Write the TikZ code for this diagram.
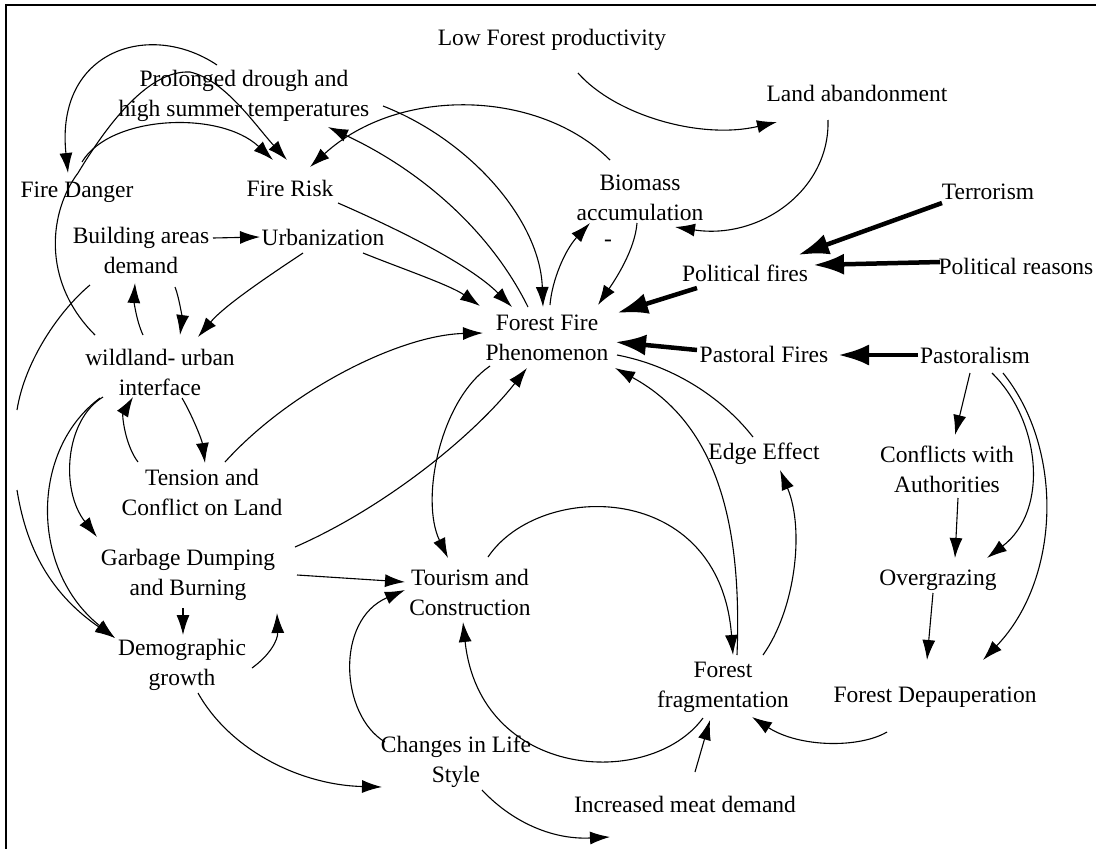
\documentclass[tikz,border=0pt]{standalone}
\usepackage{fontspec}
\setmainfont{Liberation Serif}
\usetikzlibrary{arrows.meta}
\begin{document}
\begin{tikzpicture}[x=1pt,y=-1pt,
  lbl/.style={font=\fontsize{23.5}{30}\selectfont, align=center, inner sep=0pt},
  conn/.style={line width=1.1pt, -{Latex[length=20pt,width=13pt]}},
  plainconn/.style={line width=1.1pt},
  bigconn/.style={line width=4.5pt, -{Latex[length=31pt,width=21pt]}}]
\useasboundingbox (0,0) rectangle (1096,849);
\draw[line width=2.2pt] (6,849) -- (6,5) -- (1096,5);

% nodes
\node[lbl] (lfp) at (552,40) {Low Forest productivity};
\node[lbl] (pd) at (244,96) {Prolonged drough and\\high summer temperatures};
\node[lbl] (fd) at (77,192) {Fire Danger};
\node[lbl] (fr) at (290,188) {Fire Risk};
\node[lbl] (la) at (857,93) {Land abandonment};
\node[lbl] (bio) at (640,198) {Biomass\\accumulation};
\node[lbl] (minus) at (608,243) {-};
\node[lbl] (ter) at (988,192) {Terrorism};
\node[lbl] (polr) at (1016,266) {Political reasons};
\node[lbl] (polf) at (745,273) {Political fires};
\node[lbl] (bad) at (141,250) {Building areas\\demand};
\node[lbl] (urb) at (323,237) {Urbanization};
\node[lbl] (ff) at (547,338) {Forest Fire\\Phenomenon};
\node[lbl] (pf) at (764,354) {Pastoral Fires};
\node[lbl] (past) at (975,355) {Pastoralism};
\node[lbl] (wui) at (160,372) {wildland- urban\\interface};
\node[lbl] (tcl) at (202,492) {Tension and\\Conflict on Land};
\node[lbl] (edge) at (764,454) {Edge Effect};
\node[lbl] (cwa) at (947,469) {Conflicts with\\Authorities};
\node[lbl] (gdb) at (188,575) {Garbage Dumping\\and Burning};
\node[lbl] (tc) at (470,592) {Tourism and\\Construction};
\node[lbl] (og) at (938,580) {Overgrazing};
\node[lbl] (dg) at (182,665) {Demographic\\growth};
\node[lbl] (ffr) at (723,687) {Forest\\fragmentation};
\node[lbl] (fdp) at (935,697) {Forest Depauperation};
\node[lbl] (cls) at (456,762) {Changes in Life\\Style};
\node[lbl] (imd) at (685,804) {Increased meat demand};
\coordinate (gapA) at (17,410);
\coordinate (gapB) at (17,490);

% thin connectors
\draw[conn] ([shift={(26,33)}]lfp.center) .. controls (615,115) and (700,140) .. ([shift={(-80,29)}]la.center);
\draw[conn] ([shift={(-29,27)}]la.center) .. controls (830,190) and (760,240) .. ([shift={(35,29)}]bio.center);
\draw[conn] ([shift={(-30,-38)}]bio.center) .. controls (540,90) and (400,85) .. ([shift={(20,-21)}]fr.center);
\draw[conn] ([shift={(-19,-31)}]ff.center) .. controls (490,230) and (420,170) .. ([shift={(84,31)}]pd.center);
\draw[conn] ([shift={(139,10)}]pd.center) .. controls (470,140) and (540,220) .. ([shift={(-4,-31)}]ff.center);
\draw[conn] ([shift={(48,15)}]fr.center) .. controls (400,230) and (470,265) .. ([shift={(-35,-31)}]ff.center);
\draw[conn] ([shift={(40,16)}]urb.center) .. controls (400,268) and (450,285) .. ([shift={(-67,-32)}]ff.center);
\draw[conn] ([shift={(-20,16)}]urb.center) .. controls (270,275) and (225,305) .. ([shift={(38,-35)}]wui.center);
\draw[conn] ([shift={(72,-12)}]bad.center) -- ([shift={(-63,0)}]urb.center);
\draw[conn] ([shift={(34,37)}]bad.center) .. controls (180,300) and (182,320) .. ([shift={(20,-37)}]wui.center);
\draw[conn] ([shift={(-17,-37)}]wui.center) .. controls (136,320) and (134,300) .. ([shift={(-6,33)}]bad.center);
\draw[conn] ([shift={(-65,-37)}]wui.center) .. controls (40,280) and (50,210) .. (78,173) .. controls (110,120) and (150,70) .. (190,72) .. controls (225,80) and (255,125) .. ([shift={(-3,-28)}]fr.center);
\draw[conn] ([shift={(5,-30)}]fd.center) .. controls (110,115) and (220,110) .. ([shift={(-17,-28)}]fr.center);
\draw[conn] ([shift={(-27,-31)}]pd.center) .. controls (150,20) and (55,50) .. ([shift={(-9,-19)}]fd.center);
\draw[conn] ([shift={(-3,25)}]bio.center) .. controls (635,250) and (615,280) .. ([shift={(51,-33)}]ff.center);
\draw[conn] ([shift={(3,-33)}]ff.center) .. controls (552,280) and (565,250) .. ([shift={(-50,25)}]bio.center);
\draw[plainconn] ([shift={(-11,-17)}]edge.center) .. controls (720,395) and (670,365) .. ([shift={(70,17)}]ff.center);
\draw[conn] ([shift={(40,-32)}]ffr.center) .. controls (795,610) and (805,530) .. ([shift={(16,16)}]edge.center);
\draw[conn] ([shift={(14,-32)}]ffr.center) .. controls (742,530) and (720,425) .. ([shift={(68,30)}]ff.center);
\draw[conn] ([shift={(18,-35)}]tc.center) .. controls (540,480) and (720,480) .. ([shift={(10,-32)}]ffr.center);
\draw[conn] ([shift={(-20,31)}]ffr.center) .. controls (650,790) and (480,780) .. ([shift={(-7,30)}]tc.center);
\draw[conn] ([shift={(10,-32)}]imd.center) -- ([shift={(-13,33)}]ffr.center);
\draw[conn] ([shift={(-48,35)}]fdp.center) .. controls (860,748) and (800,748) .. ([shift={(29,30)}]ffr.center);
\draw[conn] ([shift={(-5,13)}]og.center) -- ([shift={(-8,-37)}]fdp.center);
\draw[conn] ([shift={(11,29)}]cwa.center) -- ([shift={(17,-22)}]og.center);
\draw[conn] ([shift={(-5,18)}]past.center) -- ([shift={(8,-34)}]cwa.center);
\draw[conn] ([shift={(17,18)}]past.center) .. controls (1040,420) and (1050,510) .. ([shift={(49,-22)}]og.center);
\draw[conn] ([shift={(28,18)}]past.center) .. controls (1065,450) and (1060,580) .. ([shift={(48,-37)}]fdp.center);
\draw[conn] ([shift={(26,28)}]cls.center) .. controls (510,820) and (550,840) .. ([shift={(-75,33)}]imd.center);
\draw[conn] ([shift={(-71,-20)}]cls.center) .. controls (340,715) and (335,620) .. ([shift={(-65,-2)}]tc.center);
\draw[conn] ([shift={(109,0)}]gdb.center) -- ([shift={(-65,-10)}]tc.center);
\draw[conn] ([shift={(107,-28)}]gdb.center) .. controls (380,510) and (470,440) .. ([shift={(-20,30)}]ff.center);
\draw[conn] ([shift={(23,-30)}]tcl.center) .. controls (290,390) and (400,335) .. ([shift={(-64,-5)}]ff.center);
\draw[conn] ([shift={(-57,28)}]ff.center) .. controls (440,400) and (420,500) .. ([shift={(-22,-34)}]tc.center);
\draw[conn] ([shift={(22,26)}]wui.center) .. controls (192,415) and (202,440) .. ([shift={(3,-29)}]tcl.center);
\draw[conn] ([shift={(-64,-30)}]tcl.center) .. controls (125,445) and (122,415) .. ([shift={(-27,25)}]wui.center);
\draw[conn] ([shift={(-57,25)}]wui.center) .. controls (65,420) and (60,490) .. ([shift={(-91,-38)}]gdb.center);
\draw[conn] ([shift={(-60,26)}]wui.center) .. controls (30,450) and (30,570) .. ([shift={(-67,-27)}]dg.center);
\draw[plainconn] ([shift={(-51,35)}]bad.center) .. controls (60,310) and (25,360) .. (gapA);
\draw[conn] (gapB) .. controls (25,540) and (45,590) .. ([shift={(-67,-27)}]dg.center);
\draw[conn] ([shift={(-5,33)}]gdb.center) -- ([shift={(1,-30)}]dg.center);
\draw[conn] ([shift={(70,3)}]dg.center) .. controls (270,655) and (278,640) .. ([shift={(89,38)}]gdb.center);
\draw[conn] ([shift={(16,28)}]dg.center) .. controls (230,750) and (300,785) .. ([shift={(-74,25)}]cls.center);

% thick connectors
\draw[bigconn] ([shift={(-46,11)}]ter.center) -- ([shift={(53,-18)}]polf.center);
\draw[bigconn] ([shift={(-76,-4)}]polr.center) -- ([shift={(68,-8)}]polf.center);
\draw[bigconn] ([shift={(-48,15)}]polf.center) -- ([shift={(70,-25)}]ff.center);
\draw[bigconn] ([shift={(-57,0)}]past.center) -- ([shift={(74,1)}]pf.center);
\draw[bigconn] ([shift={(-67,-4)}]pf.center) -- ([shift={(68,4)}]ff.center);
\end{tikzpicture}
\end{document}
